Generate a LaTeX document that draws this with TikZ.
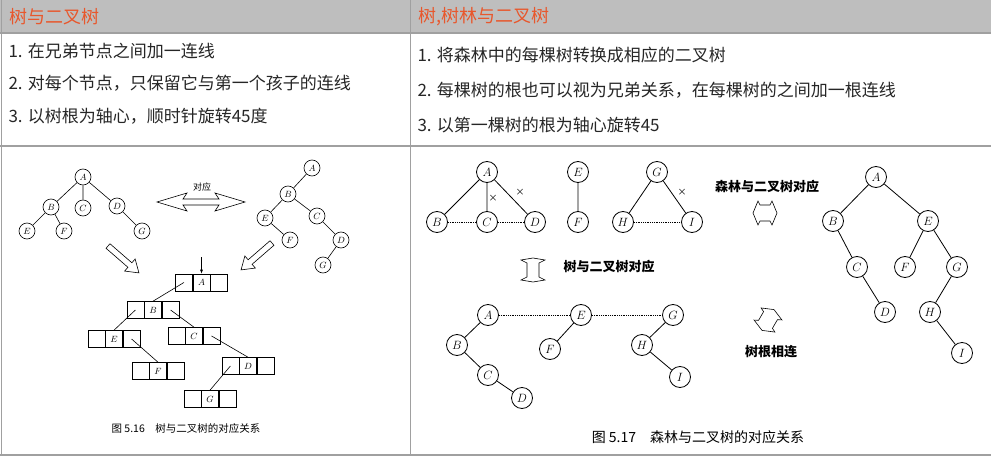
\documentclass[tikz,border=0pt]{standalone}
\usepackage{fontspec}
\setmainfont{Noto Sans CJK SC}
\usetikzlibrary{positioning,arrows.meta}
\definecolor{headgray}{HTML}{BEBEBE}
\definecolor{rulegray}{HTML}{A0A0A0}
\definecolor{headred}{HTML}{E8572C}
\tikzset{
  tnode/.style={circle, draw, semithick, minimum size=16pt, inner sep=0pt, font=\fontsize{9}{9}\selectfont},
  fnode/.style={circle, draw, thick, minimum size=21pt, inner sep=0pt, font=\fontsize{12}{12}\selectfont},
  cell/.style={draw, semithick, minimum width=17pt, minimum height=17pt, inner sep=0pt, font=\fontsize{9}{9}\selectfont},
  dotline/.style={densely dotted, thick},
  hollow/.style={draw, fill=white, semithick, line join=miter},
  rowtext/.style={anchor=west, font=\fontsize{17}{17}\selectfont, text=black!85},
  headtext/.style={anchor=west, font=\fontsize{18}{18}\selectfont, text=headred},
  tag/.style={font=\fontsize{13}{13}\selectfont\bfseries},
  cut/.style={font=\fontsize{9}{9}\selectfont},
}
% three-cell node of the binary linked list
\newcommand{\lnode}[3]{%
  \node[cell] (#1) at (#2) {$#3$};
  \node[cell, left=0pt of #1] (#1l) {};
  \node[cell, right=0pt of #1] (#1r) {};
}
\begin{document}
\begin{tikzpicture}[x=1pt, y=-1pt]
  \useasboundingbox (0,0) rectangle (991,460);

  % table
  \fill[headgray] (0,0) rectangle (991,33);
  \draw[rulegray, line width=1.5pt] (0,33) -- (991,33);
  \draw[rulegray, line width=1.5pt] (0,146) -- (991,146);
  \draw[rulegray, line width=1.5pt] (0,455) -- (991,455);
  \draw[rulegray, line width=1pt] (1,0) -- (1,455);
  \draw[rulegray, line width=1pt] (410,0) -- (410,455);

  \node[headtext] (h1) at (6,17) {树与二叉树};
  \node[headtext] (h2) at (415,17) {树,树林与二叉树};

  \node[rowtext] (l1) at (5,51) {1. 在兄弟节点之间加一连线};
  \node[rowtext] (l2) at (5,83) {2. 对每个节点，只保留它与第一个孩子的连线};
  \node[rowtext] (l3) at (5,116) {3. 以树根为轴心，顺时针旋转45度};
  \node[rowtext] (r1) at (414,55) {1. 将森林中的每棵树转换成相应的二叉树};
  \node[rowtext] (r2) at (414,90) {2. 每棵树的根也可以视为兄弟关系，在每棵树的之间加一根连线};
  \node[rowtext] (r3) at (414,125) {3. 以第一棵树的根为轴心旋转45};

  % figure 5.16: tree
  \node[tnode] (tA) at (83,177) {$A$};
  \node[tnode] (tB) at (51,207) {$B$};
  \node[tnode] (tC) at (83,208) {$C$};
  \node[tnode] (tD) at (117,206) {$D$};
  \node[tnode] (tE) at (27,231) {$E$};
  \node[tnode] (tF) at (64,231) {$F$};
  \node[tnode] (tG) at (142,231) {$G$};
  \draw[semithick] (tA) -- (tB) (tA) -- (tC) (tA) -- (tD);
  \draw[semithick] (tB) -- (tE) (tB) -- (tF) (tD) -- (tG);

  % figure 5.16: binary tree
  \node[tnode] (bA) at (312,168) {$A$};
  \node[tnode] (bB) at (288,194) {$B$};
  \node[tnode] (bE) at (265,218) {$E$};
  \node[tnode] (bC) at (317,216) {$C$};
  \node[tnode] (bF) at (290,240) {$F$};
  \node[tnode] (bD) at (341,240) {$D$};
  \node[tnode] (bG) at (323,265) {$G$};
  \draw[semithick] (bA) -- (bB) (bB) -- (bE) (bB) -- (bC);
  \draw[semithick] (bE) -- (bF) (bC) -- (bD) (bD) -- (bG);

  % hollow arrows
  \node[cut] (dui) at (202,187) {对应};
  \draw[hollow] (157,202) -- (187,193) -- (183,199) -- (219,199) -- (215,193) -- (245,202)
    -- (215,211) -- (219,205) -- (183,205) -- (187,211) -- cycle;
  \draw[hollow, shift={(108,246)}, rotate=-41] (0,-3) -- (29,-3) -- (29,-8) -- (41,0)
    -- (29,8) -- (29,3) -- (0,3) -- cycle;
  \draw[hollow, shift={(272,243)}, rotate=-139] (0,-3) -- (29,-3) -- (29,-8) -- (41,0)
    -- (29,8) -- (29,3) -- (0,3) -- cycle;

  % figure 5.16: linked binary tree
  \lnode{nA}{201.5,282.5}{A}
  \lnode{nB}{153,310}{B}
  \lnode{nE}{114,339}{E}
  \lnode{nC}{194,336}{C}
  \lnode{nF}{158,371}{F}
  \lnode{nD}{248,366}{D}
  \lnode{nG}{210,399}{G}
  \coordinate (root) at (201.5,257);
  \draw[semithick, -{Latex[length=4pt,width=3pt]}] (root) -- (nA.north);
  \draw[semithick] (nAl.center) -- (nB.north);
  \draw[semithick] (nBl.center) -- (nE.north);
  \draw[semithick] (nBr.center) -- (nC.north);
  \draw[semithick] (nEr.center) -- (nF.north);
  \draw[semithick] (nCr.center) -- (nD.north);
  \draw[semithick] (nDl.center) -- (nG.north);
  \node[font=\fontsize{10.5}{10.5}\selectfont] (cap1) at (186,429) {图 5.16\quad 树与二叉树的对应关系};

  % figure 5.17: forest
  \node[fnode] (fA) at (487,172) {$A$};
  \node[fnode] (fB) at (437,222) {$B$};
  \node[fnode] (fC) at (487,222) {$C$};
  \node[fnode] (fD) at (535,222) {$D$};
  \node[fnode] (fE) at (578,172) {$E$};
  \node[fnode] (fF) at (578,222) {$F$};
  \node[fnode] (fG) at (657,172) {$G$};
  \node[fnode] (fH) at (623,222) {$H$};
  \node[fnode] (fI) at (692,222) {$I$};
  \draw[thick] (fA) -- (fB) (fA) -- (fC) (fA) -- (fD);
  \draw[thick] (fE) -- (fF) (fG) -- (fH) (fG) -- (fI);
  \draw[dotline] (fB) -- (fC) (fC) -- (fD) (fH) -- (fI);
  \node[cut] (x1) at (493,198) {×};
  \node[cut] (x2) at (520,192) {×};
  \node[cut] (x3) at (682,192) {×};

  % figure 5.17: roots linked
  \node[fnode] (gA) at (488,315) {$A$};
  \node[fnode] (gB) at (457,345) {$B$};
  \node[fnode] (gC) at (488,375) {$C$};
  \node[fnode] (gD) at (522,398) {$D$};
  \node[fnode] (gE) at (581,315) {$E$};
  \node[fnode] (gF) at (550,349) {$F$};
  \node[fnode] (gG) at (673,315) {$G$};
  \node[fnode] (gH) at (642,345) {$H$};
  \node[fnode] (gI) at (680,377) {$I$};
  \draw[thick] (gA) -- (gB) (gB) -- (gC) (gC) -- (gD);
  \draw[thick] (gE) -- (gF) (gG) -- (gH) (gH) -- (gI);
  \draw[dotline] (gA) -- (gE) (gE) -- (gG);

  % figure 5.17: binary tree
  \node[fnode] (kA) at (876,177) {$A$};
  \node[fnode] (kB) at (833,221) {$B$};
  \node[fnode] (kE) at (928,221) {$E$};
  \node[fnode] (kC) at (857,267) {$C$};
  \node[fnode] (kF) at (905,267) {$F$};
  \node[fnode] (kG) at (957,267) {$G$};
  \node[fnode] (kD) at (885,312) {$D$};
  \node[fnode] (kH) at (930,312) {$H$};
  \node[fnode] (kI) at (962,353) {$I$};
  \draw[thick] (kA) -- (kB) (kA) -- (kE) (kB) -- (kC) (kC) -- (kD);
  \draw[thick] (kE) -- (kF) (kE) -- (kG) (kG) -- (kH) (kH) -- (kI);

  % figure 5.17: tags and arrows
  \node[tag] (t1) at (609,267) {树与二叉树对应};
  \draw[hollow, shift={(533,270)}] (0,-12) -- (-12,-10) -- (-6,-7) -- (-6,7) -- (-12,10) -- (0,12)
    -- (12,10) -- (6,7) -- (6,-7) -- (12,-10) -- cycle;
  \node[tag] (t2) at (767,187) {森林与二叉树对应};
  \draw[hollow, shift={(765,213)}] (-12,0) -- (-7,-12) -- (-5,-8) -- (5,-8) -- (7,-12) -- (12,0)
    -- (7,12) -- (5,8) -- (-5,8) -- (-7,12) -- cycle;
  \node[tag] (t3) at (771,352) {树根相连};
  \draw[hollow, shift={(768,320)}, rotate=60] (-12,0) -- (-7,-12) -- (-5,-8) -- (5,-8) -- (7,-12) -- (12,0)
    -- (7,12) -- (5,8) -- (-5,8) -- (-7,12) -- cycle;
  \node[font=\fontsize{14}{14}\selectfont] (cap2) at (698,437) {图 5.17\quad 森林与二叉树的对应关系};
\end{tikzpicture}
\end{document}
